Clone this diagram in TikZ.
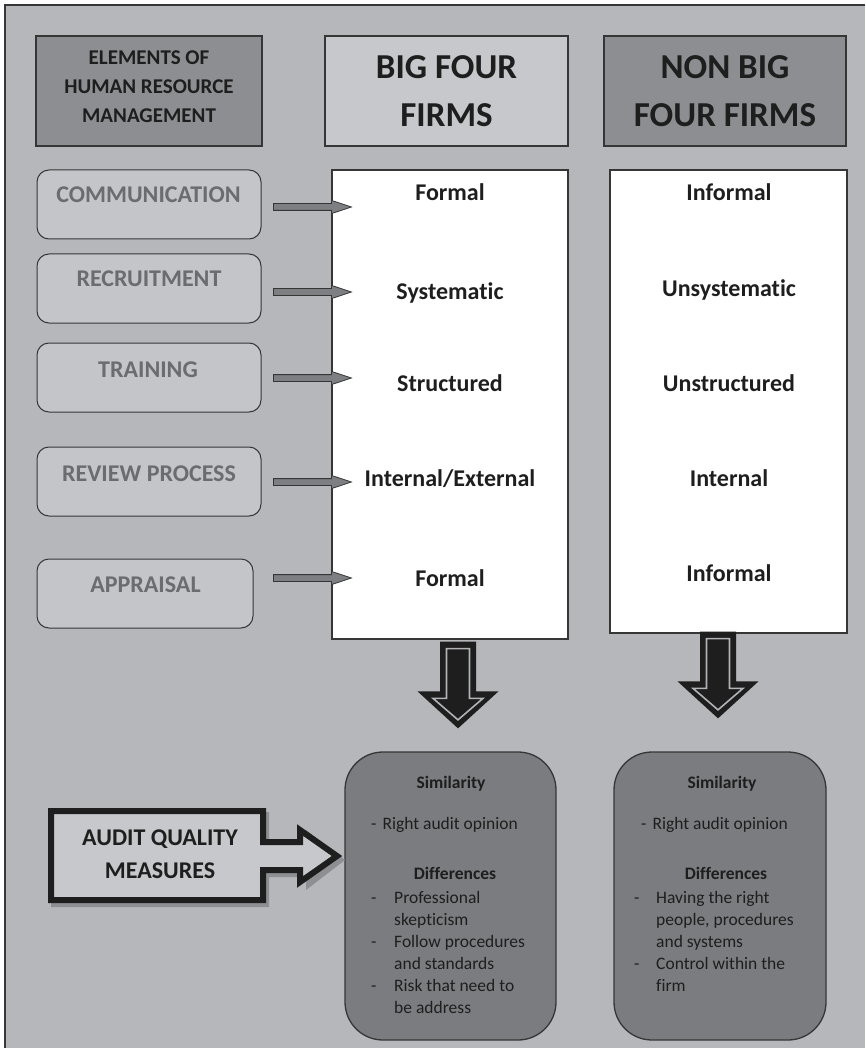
\documentclass[tikz,border=0pt]{standalone}
\usepackage{fontspec}
\setmainfont{Carlito}[Ligatures={NoCommon,NoContextual}]
\usetikzlibrary{calc}

\definecolor{bg}{HTML}{B6B7BB}
\definecolor{hdrdark}{HTML}{8D8E92}
\definecolor{hdrlight}{HTML}{C7C8CC}
\definecolor{elemfill}{HTML}{C4C5C9}
\definecolor{elemtext}{HTML}{6B6C6F}
\definecolor{resfill}{HTML}{7B7C80}
\definecolor{edge}{HTML}{363636}
\definecolor{ink}{HTML}{1E1E1E}
\definecolor{linkfill}{HTML}{7E7F83}
\definecolor{innerline}{HTML}{B2B3B7}
\definecolor{shadowc}{HTML}{8E8F93}

% thin grey arrow from a start coordinate into the left side of a node
\newcommand\hrlink[2]{%
  \draw[linkarrow] let \p1=(#1), \p2=(#2.west) in
    (\x1,\y1+3.4pt) -- (\x2,\y1+3.4pt) -- (\x2,\y1+6.6pt) -- (\x2+20pt,\y1)
    -- (\x2,\y1-6.6pt) -- (\x2,\y1-3.4pt) -- (\x1,\y1-3.4pt) -- cycle;}

% heavy black downward arrow with an inset light outline
\newcommand\flowdown[2]{%
  \fill[ink] let \p1=(#1), \p2=(#2) in
    (\x1-18pt,\y1) -- (\x1+18pt,\y1) -- (\x1+18pt,\y2+37pt) -- (\x1+40.5pt,\y2+37pt)
    -- (\x1,\y2) -- (\x1-40.5pt,\y2+37pt) -- (\x1-18pt,\y2+37pt) -- cycle;
  \draw[innerline, line width=1.6pt, line join=miter] let \p1=(#1), \p2=(#2) in
    (\x1-11.5pt,\y1-7pt) -- (\x1+11.5pt,\y1-7pt) -- (\x1+11.5pt,\y2+30pt) -- (\x1+25pt,\y2+30pt)
    -- (\x1,\y2+8.5pt) -- (\x1-25pt,\y2+30pt) -- (\x1-11.5pt,\y2+30pt) -- cycle;}

\begin{document}
\begin{tikzpicture}[x=1pt,y=-1pt,
  hdrbox/.style={draw=edge, line width=1.3pt, inner sep=0pt, minimum height=110pt},
  elembox/.style={draw=edge, line width=1pt, fill=elemfill, rounded corners=12pt,
    minimum height=69pt, inner sep=0pt},
  elemlabel/.style={font=\bfseries\fontsize{24}{28}\selectfont, text=elemtext, anchor=base, inner sep=0pt},
  column/.style={draw=edge, line width=1.2pt, fill=white, inner sep=0pt},
  value/.style={font=\bfseries\fontsize{24}{28}\selectfont, text=ink, anchor=base, inner sep=0pt},
  linkarrow/.style={fill=linkfill, draw=edge, line width=0.8pt, line join=miter},
  resbox/.style={draw=edge, line width=1.3pt, fill=resfill, rounded corners=38pt,
    minimum height=288pt, inner sep=0pt},
  reshead/.style={font=\bfseries\fontsize{17.5}{22}\selectfont, text=ink, anchor=base, inner sep=0pt},
  resline/.style={font=\fontsize{17.5}{22}\selectfont, text=ink, anchor=base west, inner sep=0pt}
]
\useasboundingbox (0,0) rectangle (865,1048);
\fill[white] (0,0) rectangle (865,1048);
\fill[bg] (5,5) rectangle (865,1048);
\draw[edge, line width=2pt] (5,1048) -- (5,5) -- (865,5);

% column headings
\node[hdrbox, fill=hdrdark, minimum width=226pt] (h1) at (149,91) {};
\node[hdrbox, fill=hdrlight, minimum width=243pt] (h2) at (446.5,91) {};
\node[hdrbox, fill=hdrdark, minimum width=242pt] (h3) at (725,91) {};
\node[font=\bfseries\fontsize{21}{29}\selectfont, align=center, text=ink, inner sep=0pt] (h1t) at (149,87)
  {ELEMENTS OF\\HUMAN RESOURCE\\MANAGEMENT};
\node[font=\bfseries\fontsize{35}{48}\selectfont, align=center, text=ink, inner sep=0pt] (h2t) at (446.5,91)
  {BIG FOUR\\FIRMS};
\node[font=\bfseries\fontsize{35}{48}\selectfont, align=center, text=ink, inner sep=0pt] (h3t) at (725,91)
  {NON BIG\\FOUR FIRMS};

% HRM elements
\node[elembox, minimum width=224pt] (e1) at (149,204.5) {};
\node[elembox, minimum width=224pt] (e2) at (149,288.5) {};
\node[elembox, minimum width=224pt] (e3) at (149,377.5) {};
\node[elembox, minimum width=224pt] (e4) at (149,481.5) {};
\node[elembox, minimum width=216pt] (e5) at (145,593.5) {};
\node[elemlabel] (e1t) at (148.5,203) {COMMUNICATION};
\node[elemlabel] (e2t) at (149,287) {RECRUITMENT};
\node[elemlabel] (e3t) at (148,377) {TRAINING};
\node[elemlabel] (e4t) at (149,481) {REVIEW PROCESS};
\node[elemlabel] (e5t) at (145.5,592) {APPRAISAL};

% comparison columns
\node[column, minimum width=236pt, minimum height=469pt] (c1) at (450,404.5) {};
\node[column, minimum width=237pt, minimum height=463pt] (c2) at (728.5,401.5) {};

\node[value] (v11) at (450,201) {Formal};
\node[value] (v12) at (450,299) {Systematic};
\node[value] (v13) at (450,391) {Structured};
\node[value] (v14) at (450,486) {Internal/External};
\node[value] (v15) at (450,586) {Formal};

\node[value] (v21) at (729,201) {Informal};
\node[value] (v22) at (729,297) {Unsystematic};
\node[value] (v23) at (729,391) {Unstructured};
\node[value] (v24) at (729,486) {Internal};
\node[value] (v25) at (729,581) {Informal};

% links from each element into the Big Four column
\coordinate (a1) at ($(e1.east |- 0,207)+(12,0)$);
\coordinate (a2) at ($(e2.east |- 0,292)+(12,0)$);
\coordinate (a3) at ($(e3.east |- 0,378)+(12,0)$);
\coordinate (a4) at ($(e4.east |- 0,482)+(12,0)$);
\coordinate (a5) at ($(e1.east |- 0,578)+(12,0)$);
\hrlink{a1}{c1}
\hrlink{a2}{c1}
\hrlink{a3}{c1}
\hrlink{a4}{c1}
\hrlink{a5}{c1}

% outcome boxes
\node[resbox, minimum width=211pt] (r1) at (450.5,896) {};
\node[resbox, minimum width=212pt] (r2) at (720,896) {};

% arrows from the columns down to the outcomes
\coordinate (d1top) at ($(c1.south)+(8,2)$);
\coordinate (d1tip) at ($(r1.north)+(7.5,-23)$);
\coordinate (d2top) at ($(c2.south)+(-10.5,-2)$);
\coordinate (d2tip) at ($(r2.north)+(-2,-33)$);
\flowdown{d1top}{d1tip}
\flowdown{d2top}{d2tip}

% Big Four outcome text
\node[reshead] (s1) at (451,788) {Similarity};
\node[resline] (s1a) at (371,829) {-\hspace{6pt}Right audit opinion};
\node[reshead] (d1) at (455,879) {Differences};
\foreach \txt/\yy/\dash in {Professional/903/1, skepticism/925/0,
    Follow procedures/947/1, and standards/969/0, Risk that need to/991/1, be address/1013/0}{
  \ifnum\dash=1 \node[resline] at (371,\yy) {-}; \fi
  \node[resline] at (394,\yy) {\txt};
}

% non Big Four outcome text
\node[reshead] (s2) at (722,788) {Similarity};
\node[resline] (s2a) at (641,829) {-\hspace{6pt}Right audit opinion};
\node[reshead] (d2) at (726,879) {Differences};
\foreach \txt/\yy/\dash in {Having the right/903/1, {people, procedures}/925/0,
    and systems/947/0, Control within the/969/1, firm/991/0}{
  \ifnum\dash=1 \node[resline] at (634,\yy) {-}; \fi
  \node[resline] at (656,\yy) {\txt};
}

% audit quality measures block arrow
\fill[shadowc, shift={(3,4)}] (48,808) -- (266,808) -- (266,839) -- (303,839) -- (303,826)
  -- (342,856) -- (303,886) -- (303,873) -- (266,873) -- (266,903) -- (48,903) -- cycle;
\draw[ink, fill=hdrlight, line width=6pt, line join=miter] (51,811) -- (263,811) -- (263,842)
  -- (300,842) -- (300,830) -- (337,856) -- (300,882) -- (300,870) -- (263,870)
  -- (263,900) -- (51,900) -- cycle;
\node[font=\bfseries\fontsize{24}{33}\selectfont, align=center, text=ink, inner sep=0pt] (audit)
  at (160,854) {AUDIT QUALITY\\MEASURES};
\end{tikzpicture}
\end{document}
